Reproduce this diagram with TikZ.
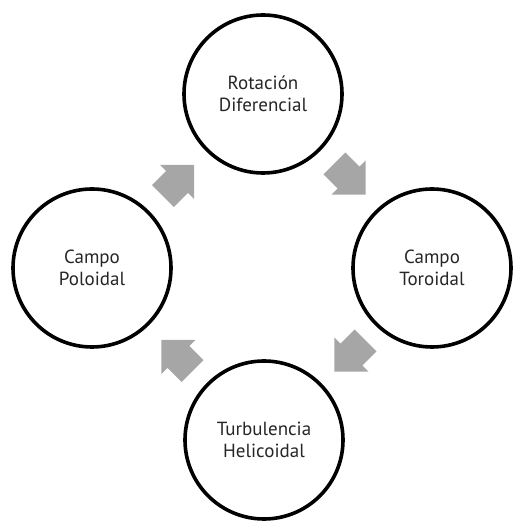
\documentclass[tikz,border=0pt]{standalone}
\usepackage{fontspec}
\setmainfont{PT Sans}
\begin{document}
\begin{tikzpicture}[x=1pt,y=1pt,
  stage/.style={circle,draw=black,line width=3.6pt,minimum size=158pt,inner sep=0pt,
    align=center,text=black!85,font=\fontsize{19}{22.5}\selectfont},
  blockfill/.style={fill=arrowgray,draw=none}]
\definecolor{arrowgray}{RGB}{166,166,166}
\useasboundingbox (0,0) rectangle (515,525);
\newcommand\blockarrow[4]{%
  \begin{scope}[shift={(#1,#2)},rotate=#3]
    \fill[blockfill] (-22,-15.5) -- (-2,-15.5) -- (-2,-24) -- (22,0) -- (-2,24) -- (-2,15.5) -- (-22,15.5) -- cycle;
    \coordinate (#4) at (0,0);
  \end{scope}}
\node[stage] (rot) at (263,431) {Rotación\\Diferencial};
\node[stage] (pol) at (92,257) {Campo\\Poloidal};
\node[stage] (tor) at (432,257) {Campo\\Toroidal};
\node[stage] (tur) at (264,85) {Turbulencia\\Helicoidal};
\blockarrow{178.5}{344.5}{45}{a1}
\blockarrow{350}{346}{-45}{a2}
\blockarrow{350}{169}{-135}{a3}
\blockarrow{177}{169.5}{135}{a4}
\end{tikzpicture}
\end{document}
